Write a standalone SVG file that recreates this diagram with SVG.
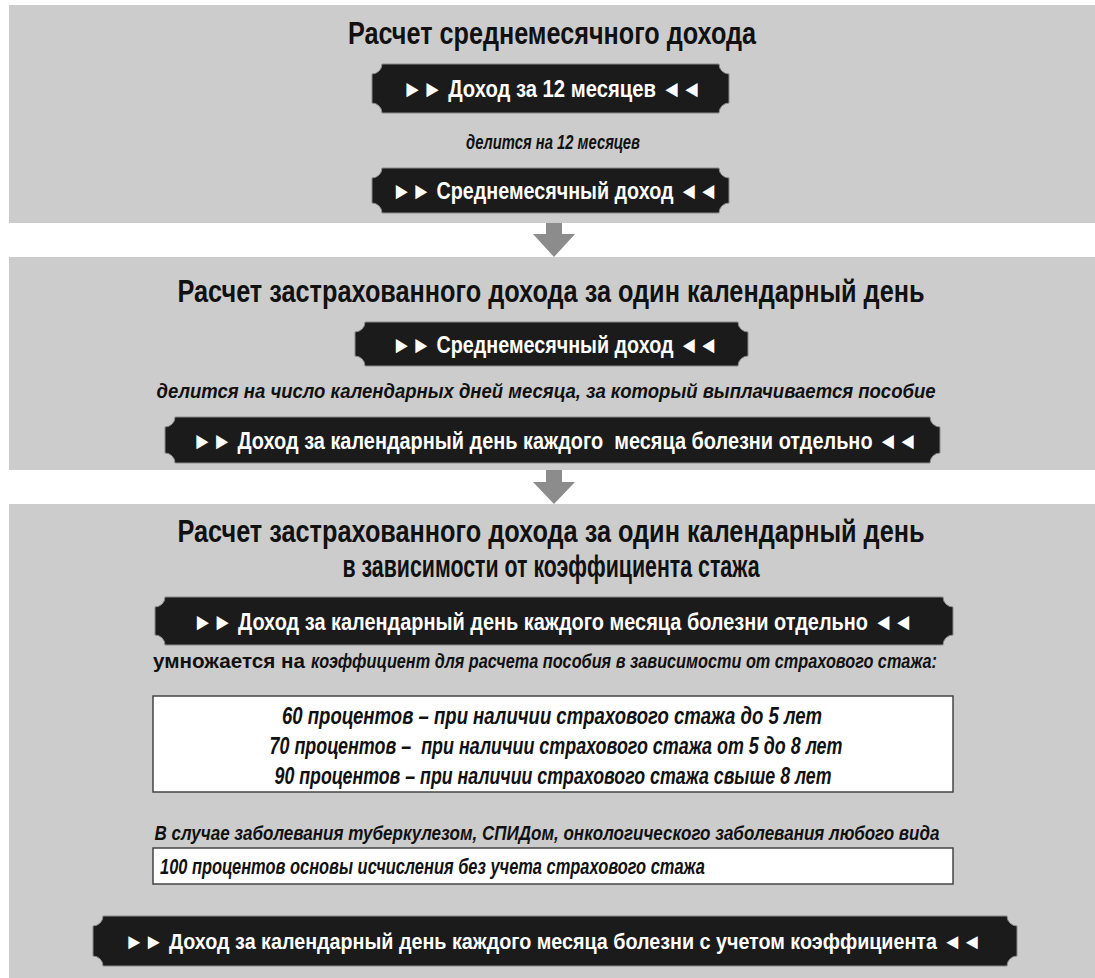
<svg xmlns="http://www.w3.org/2000/svg" width="1095" height="978" viewBox="0 0 1095 978">
<style>
.panel{fill:#cccccc}
.arrow{fill:#8c8c8c}
.ban{fill:#1b1b1b;stroke:#8a8a8a;stroke-width:1}
.bt{font-family:"Liberation Sans",Arial,sans-serif;font-weight:bold;font-size:24px;fill:#ffffff;text-anchor:middle}
.title{font-family:"Liberation Sans",Arial,sans-serif;font-weight:bold;font-size:31px;fill:#111111;text-anchor:middle}
.it{font-family:"Liberation Sans",Arial,sans-serif;font-weight:bold;font-style:italic;font-size:21px;fill:#111111;text-anchor:middle}
.reg{font-family:"Liberation Sans",Arial,sans-serif;font-weight:bold;font-size:20px;fill:#111111}
.box{fill:#ffffff;stroke:#444444;stroke-width:1.5}
.bx{font-family:"Liberation Sans",Arial,sans-serif;font-weight:bold;font-style:italic;font-size:23px;fill:#111111;text-anchor:middle}
</style>
<rect width="1095" height="978" fill="#ffffff"/>
<g id="panel1">
<rect class="panel" x="9" y="5" width="1086" height="218"/>
<text class="title" x="552" y="44" textLength="408" lengthAdjust="spacingAndGlyphs">Расчет среднемесячного дохода</text>
</g>
<g id="panel2">
<rect class="panel" x="9" y="257" width="1086" height="213"/>
<text class="title" x="551" y="302" textLength="747" lengthAdjust="spacingAndGlyphs">Расчет застрахованного дохода за один календарный день</text>
</g>
<g id="panel3">
<rect class="panel" x="9" y="504" width="1086" height="474"/>
<text class="title" x="551" y="542" textLength="747" lengthAdjust="spacingAndGlyphs">Расчет застрахованного дохода за один календарный день</text>
<text class="title" x="551" y="577" textLength="417" lengthAdjust="spacingAndGlyphs">в зависимости от коэффициента стажа</text>
</g>
<g id="connectors">
<polygon class="arrow" points="546,223 562,223 562,234 575,234 554,257 533,234 546,234"/>
<polygon class="arrow" points="546,470 562,470 562,482 575,482 554,504 533,482 546,482"/>
</g>
<g id="b1">
<path class="ban" d="M382,64 H719 A10 10 0 0 0 729,74 V103 A10 10 0 0 0 719,113 H382 A10 10 0 0 0 372,103 V74 A10 10 0 0 0 382,64 Z"/>
<text class="bt" x="552" y="97" textLength="299" lengthAdjust="spacingAndGlyphs">►► Доход за 12 месяцев ◄◄</text>
</g>
<g id="s1">
<text class="it" x="553" y="149" textLength="174" lengthAdjust="spacingAndGlyphs">делится на 12 месяцев</text>
</g>
<g id="b2">
<path class="ban" d="M382,168 H719 A10 10 0 0 0 729,178 V203 A10 10 0 0 0 719,213 H382 A10 10 0 0 0 372,203 V178 A10 10 0 0 0 382,168 Z"/>
<text class="bt" x="555" y="199" textLength="326" lengthAdjust="spacingAndGlyphs">►► Среднемесячный доход ◄◄</text>
</g>
<g id="b3">
<path class="ban" d="M365,322 H738 A10 10 0 0 0 748,332 V356 A10 10 0 0 0 738,366 H365 A10 10 0 0 0 355,356 V332 A10 10 0 0 0 365,322 Z"/>
<text class="bt" x="555" y="353" textLength="326" lengthAdjust="spacingAndGlyphs">►► Среднемесячный доход ◄◄</text>
</g>
<g id="s2">
<text class="it" x="546" y="398" textLength="779" lengthAdjust="spacingAndGlyphs">делится на число календарных дней месяца, за который выплачивается пособие</text>
</g>
<g id="b4">
<path class="ban" d="M175,417 H930 A10 10 0 0 0 940,427 V453 A10 10 0 0 0 930,463 H175 A10 10 0 0 0 165,453 V427 A10 10 0 0 0 175,417 Z"/>
<text class="bt" x="555" y="449" textLength="725" lengthAdjust="spacingAndGlyphs" xml:space="preserve">►► Доход за календарный день каждого  месяца болезни отдельно ◄◄</text>
</g>
<g id="b5">
<path class="ban" d="M165,597 H943 A10 10 0 0 0 953,607 V635 A10 10 0 0 0 943,645 H165 A10 10 0 0 0 155,635 V607 A10 10 0 0 0 165,597 Z"/>
<text class="bt" x="553" y="630" textLength="720" lengthAdjust="spacingAndGlyphs">►► Доход за календарный день каждого месяца болезни отдельно ◄◄</text>
</g>
<g id="s3">
<text class="reg" x="153" y="668" textLength="152" lengthAdjust="spacingAndGlyphs">умножается на</text>
<text class="it" x="311" y="668" style="text-anchor:start;font-size:20px" textLength="626" lengthAdjust="spacingAndGlyphs">коэффициент для расчета пособия в зависимости от страхового стажа:</text>
</g>
<g id="box1">
<rect class="box" x="153" y="696" width="800" height="96"/>
<text class="bx" x="552" y="724" textLength="540" lengthAdjust="spacingAndGlyphs">60 процентов – при наличии страхового стажа до 5 лет</text>
<text class="bx" x="556" y="754" textLength="573" lengthAdjust="spacingAndGlyphs" xml:space="preserve">70 процентов –  при наличии страхового стажа от 5 до 8 лет</text>
<text class="bx" x="553" y="784" textLength="557" lengthAdjust="spacingAndGlyphs">90 процентов – при наличии страхового стажа свыше 8 лет</text>
</g>
<g id="s4">
<text class="it" x="547" y="840" style="font-size:20px" textLength="785" lengthAdjust="spacingAndGlyphs">В случае заболевания туберкулезом, СПИДом, онкологического заболевания любого вида</text>
</g>
<g id="box2">
<rect class="box" x="153" y="848" width="800" height="36"/>
<text class="bx" x="160" y="874" style="text-anchor:start;font-size:22px" textLength="545" lengthAdjust="spacingAndGlyphs">100 процентов основы исчисления без учета страхового стажа</text>
</g>
<g id="b6">
<path class="ban" d="M103,916 H1007 A10 10 0 0 0 1017,926 V956 A10 10 0 0 0 1007,966 H103 A10 10 0 0 0 93,956 V926 A10 10 0 0 0 103,916 Z"/>
<text class="bt" x="553" y="949" style="font-size:22px" textLength="857" lengthAdjust="spacingAndGlyphs">►► Доход за календарный день каждого месяца болезни с учетом коэффициента ◄◄</text>
</g>
</svg>
